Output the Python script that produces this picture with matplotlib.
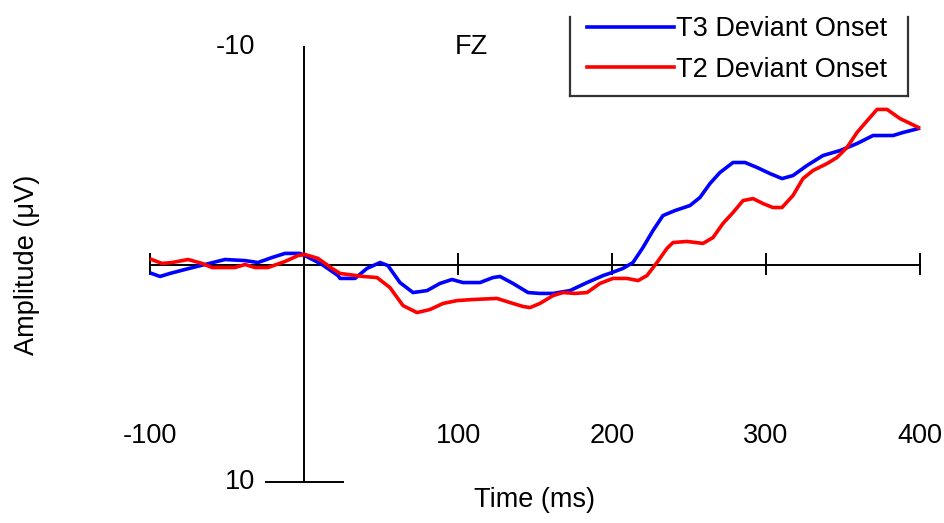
import numpy as np
import matplotlib
matplotlib.use('Agg')
import matplotlib.pyplot as plt
from matplotlib.lines import Line2D

plt.rcParams['font.family'] = ['Liberation Sans', 'DejaVu Sans']

# ERP traces (time in ms, amplitude in uV, negative up)
t3_time = [-99, -93.5, -87, -77.3, -64.3, -51.3, -38.3, -29.9, -20.8, -12.3, -2.6, 0.6,
           11.7, 22.1, 23.4, 33.1, 40.9, 49.4, 54.5, 62.3, 70.8, 79.9, 88.3, 96.1, 103.2,
           114.3, 122.7, 127.3, 135.7, 145.5, 153.2, 161.7, 172.7, 183.8, 194.2, 200,
           207.1, 213.6, 220.1, 226.6, 233.1, 240.9, 250.6, 257.1, 263.6, 270.1, 278.6,
           286.4, 294.2, 302.6, 310.4, 317.5, 326.6, 337, 348.1, 359.1, 369.5, 382.5,
           389, 399]
t3_amp = [0.41, 0.55, 0.41, 0.23, 0.0, -0.23, -0.18, -0.09, -0.32, -0.51, -0.51, -0.41,
          0.0, 0.51, 0.64, 0.64, 0.18, -0.09, 0.05, 0.83, 1.29, 1.2, 0.87, 0.69, 0.83,
          0.83, 0.6, 0.55, 0.87, 1.29, 1.33, 1.33, 1.2, 0.83, 0.51, 0.37,
          0.18, -0.09, -0.78, -1.56, -2.25, -2.48, -2.71, -3.08, -3.72, -4.23, -4.69,
          -4.69, -4.46, -4.18, -3.95, -4.09, -4.55, -5.01, -5.24, -5.56, -5.93, -5.93,
          -6.07, -6.25]

t2_time = [-99, -92.2, -85.7, -75.3, -66.2, -59.7, -44.8, -38.3, -31.8, -23.4, -12.3, -3.9,
           0.6, 9.1, 18.2, 23.4, 38.3, 47.4, 55.8, 64.3, 73.4, 81.8, 90.3, 99.4, 109.7,
           125.3, 133.8, 142.2, 146.8, 153.2, 161.7, 168.2, 176, 183.8, 192.2, 200.6,
           209.7, 216.9, 222.7, 229.2, 235.7, 239.6, 248.7, 259.1, 265.6, 272.1, 278.6,
           285.1, 291.6, 298.1, 304.5, 310.4, 317.5, 324, 330.5, 339.6, 346.1, 352.6,
           359.1, 363, 372.1, 378.6, 387, 399]
t2_amp = [-0.23, -0.05, -0.09, -0.23, -0.05, 0.14, 0.14, 0.0, 0.14, 0.14, -0.14, -0.41,
          -0.46, -0.28, 0.18, 0.41, 0.55, 0.6, 1.06, 1.89, 2.21, 2.07, 1.79, 1.66, 1.61,
          1.56, 1.75, 1.93, 1.98, 1.79, 1.43, 1.29, 1.33, 1.29, 0.87, 0.64,
          0.64, 0.74, 0.51, -0.09, -0.74, -1.01, -1.06, -0.97, -1.24, -1.89, -2.39,
          -2.94, -3.03, -2.8, -2.62, -2.62, -3.17, -3.95, -4.32, -4.64, -4.92, -5.38,
          -6.07, -6.39, -7.13, -7.13, -6.71, -6.3]

xticks = [-100, 100, 200, 300, 400]
labels = ['T3 Deviant Onset', 'T2 Deviant Onset']

W, H = 945, 523
fig = plt.figure(figsize=(W / 100, H / 100), dpi=100)
ax = fig.add_axes([150 / W, (H - 482) / H, 770 / W, 435 / H])
ax.set_xlim(-100, 400)
ax.set_ylim(10, -10)
ax.axis('off')

fs = 19.5
lw_ax = 1.4

# axes drawn by hand, ERP style
ax.plot([-100, 400], [0, 0], color='black', lw=lw_ax, clip_on=False)
ax.plot([0, 0], [-10, 10], color='black', lw=lw_ax, clip_on=False)
ax.plot([-25, 25], [10, 10], color='black', lw=lw_ax, clip_on=False)
ax.vlines(xticks, -0.55, 0.5, color='black', lw=lw_ax, clip_on=False)

for x in xticks:
    ax.text(x, 7.9, str(x), ha='center', va='center', fontsize=fs)
ax.text(-32, -10, '-10', ha='right', va='center', fontsize=fs)
ax.text(-32, 10, '10', ha='right', va='center', fontsize=fs)
ax.text(109, -10, 'FZ', ha='center', va='center', fontsize=fs)

l1, = ax.plot(t3_time, t3_amp, color='#0000ff', lw=2.6, clip_on=False)
l2, = ax.plot(t2_time, t2_amp, color='#ff0000', lw=2.6, clip_on=False)

fig.text(535 / W, 1 - 500 / H, 'Time (ms)', ha='center', va='center', fontsize=fs)
fig.text(27 / W, 1 - 265 / H, 'Amplitude (\u03bcV)', ha='center', va='center',
         rotation=90, fontsize=fs)

# legend, its top edge is cut off in the original
leg = fig.legend([l1, l2], labels, loc='center left',
                 bbox_to_anchor=(587 / W, 1 - 49.5 / H), frameon=False,
                 fontsize=fs, borderpad=0, handlelength=3.2, handletextpad=0.1,
                 labelspacing=0.55, borderaxespad=0)
for xs, ys in [([570, 570], [17, 96]), ([570, 908], [96, 96]), ([908, 908], [17, 96])]:
    fig.add_artist(Line2D([x / W for x in xs], [1 - y / H for y in ys],
                          color='#333333', lw=1.6))

fig.savefig('out.png', dpi=100)
